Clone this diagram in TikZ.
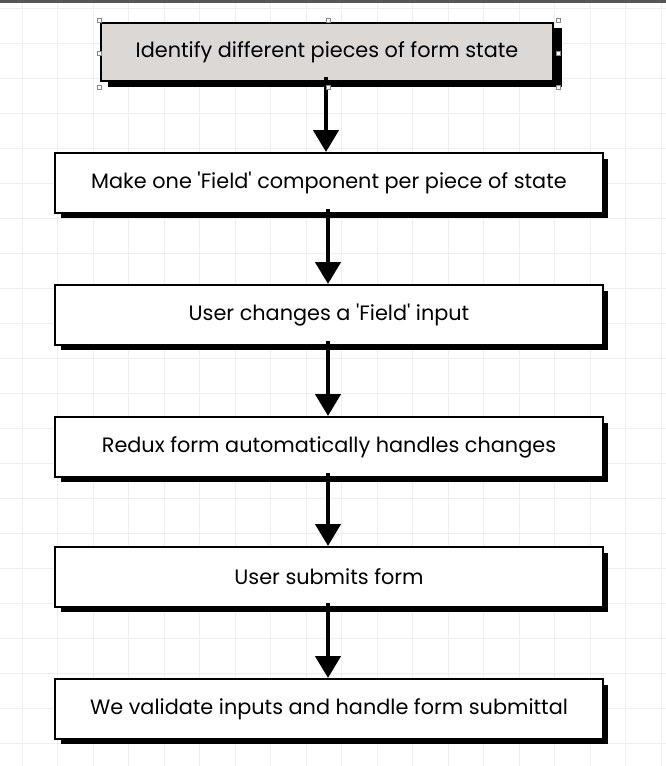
\documentclass[tikz,border=0pt]{standalone}
\usepackage{fontspec}
\setmainfont{Poppins}
\usetikzlibrary{arrows.meta}
\definecolor{gridc}{HTML}{EEEEEE}
\definecolor{topfill}{HTML}{DCD8D5}
\definecolor{topline}{HTML}{555555}
\definecolor{handle}{HTML}{888888}
\newcommand{\sq}{\textquotesingle}
\begin{document}
\begin{tikzpicture}[x=1pt,y=-1pt,
  stepbox/.style={draw=black,line width=2pt,fill=white,minimum width=548pt,minimum height=60pt,inner sep=0pt,font=\fontsize{20.8}{24}\selectfont,text=black},
  flow/.style={line width=4.5pt,-{Triangle[length=22pt,width=25pt]}},
  hnd/.style={draw=handle,fill=white,line width=0.6pt,minimum size=4pt,inner sep=0pt}]
\useasboundingbox (0,0) rectangle (666,766);
\fill[white] (0,0) rectangle (666,766);
\foreach \i in {0,...,18} \draw[gridc,line width=0.8pt] (22+35.5*\i,0) -- (22+35.5*\i,766);
\foreach \j in {0,...,21} \draw[gridc,line width=0.8pt] (0,8+35*\j) -- (666,8+35*\j);
\fill[topline] (0,0) rectangle (666,2.5);
% shadows
\foreach \cy/\w in {52/455,183/548,315/548,447/548,577/548,709/548}{
  \fill[black] (329-\w/2+6,\cy-30+6) rectangle (329+\w/2+5,\cy+30+5);
}
\node[stepbox,fill=topfill,minimum width=452pt,minimum height=58pt] (n1) at (327,52) {Identify different pieces of form state};
\node[stepbox] (n2) at (329,183) {Make one \sq Field\sq\ component per piece of state};
\node[stepbox] (n3) at (329,315) {User changes a \sq Field\sq\ input};
\node[stepbox] (n4) at (329,447) {Redux form automatically handles changes};
\node[stepbox] (n5) at (329,577) {User submits form};
\node[stepbox] (n6) at (329,709) {We validate inputs and handle form submittal};
\draw[flow] ([xshift=-1pt,yshift=5pt]n1.south) -- ([xshift=-1pt]n1.south |- n2.north);
\draw[flow] ([xshift=-1pt,yshift=5pt]n2.south) -- ([xshift=-1pt]n3.north);
\draw[flow] ([xshift=-1pt,yshift=5pt]n3.south) -- ([xshift=-1pt]n4.north);
\draw[flow] ([xshift=-1pt,yshift=5pt]n4.south) -- ([xshift=-1pt]n5.north);
\draw[flow] ([xshift=-1pt,yshift=5pt]n5.south) -- ([xshift=-1pt]n6.north);
% selection handles
\foreach \hx/\hy [count=\k] in {99/20,328/20,558/20,99/53,558/53,99/87,328/87,558/87}
  \node[hnd] (h\k) at (\hx,\hy) {};
\end{tikzpicture}
\end{document}
